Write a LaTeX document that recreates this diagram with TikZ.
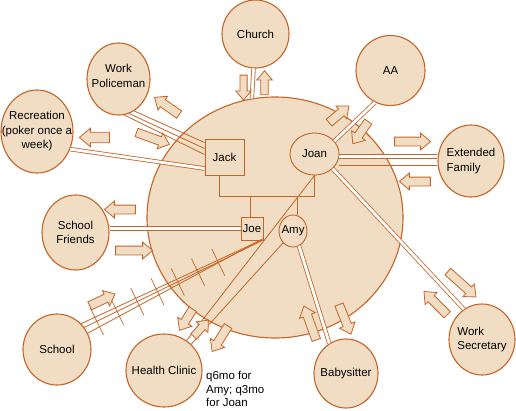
\documentclass[tikz,border=0pt]{standalone}
\usepackage{fontspec}
\setmainfont{Liberation Sans}
\usepackage{xcolor}
\usepackage{tikz}
\usetikzlibrary{shapes.geometric, shapes.arrows, calc}
\definecolor{clrLine}{RGB}{196,100,38}
\definecolor{clrFill}{RGB}{241,221,195}
\newcommand{\lblfont}{\fontsize{11.5}{14.5}\selectfont}

\begin{document}
\begin{tikzpicture}[
  x=1pt, y=-1pt,
  ring/.style={ellipse, draw=clrLine, fill=clrFill, line width=1.1pt,
               inner sep=0pt},
  tag/.style={align=center, font=\lblfont, inner sep=0pt},
  member/.style={rectangle, draw=clrLine, fill=clrFill, line width=0.9pt,
                 inner sep=0pt, font=\lblfont},
  tie/.style={draw=clrLine, line width=0.8pt},
  dbl/.style={tie, double=white, double distance=2.8pt},
  stress/.style={tie, line width=0.7pt},
  flow/.style={single arrow, draw=clrLine, fill=clrFill, line width=0.8pt,
               inner xsep=0pt, inner ysep=4pt, minimum width=0pt,
               minimum height=30pt, single arrow head extend=4pt,
               single arrow tip angle=80},
  note/.style={align=left, inner sep=0pt,
               font=\fontsize{11.5}{13.5}\selectfont}
]
\useasboundingbox (0,0) rectangle (516,410);

% household
\node[ring, minimum width=256pt, minimum height=241pt] (home) at (275,217.5) {};

% outside systems
\node[ring, minimum width=67pt, minimum height=68pt,
      label={[tag]center:Church}] (church) at (255.5,34) {};
\node[ring, minimum width=69pt, minimum height=70pt,
      label={[tag]center:AA}] (aa) at (390.5,70.5) {};
\node[ring, minimum width=63pt, minimum height=72pt,
      label={[tag, yshift=3pt]center:Work\\Policeman}] (pol) at (118.5,79) {};
\node[ring, minimum width=72pt, minimum height=83pt,
      label={[tag]center:Recreation\\(poker once a\\week)}] (rec) at (37,131.5) {};
\node[ring, minimum width=66pt, minimum height=72pt,
      label={[tag, align=left]center:Extended\\Family}] (ef) at (471,161) {};
\node[ring, minimum width=67pt, minimum height=75pt,
      label={[tag]center:School\\Friends}] (sf) at (75.5,232.5) {};
\node[ring, minimum width=68pt, minimum height=71pt,
      label={[tag]center:School}] (school) at (57,349.5) {};
\node[ring, minimum width=76pt, minimum height=73pt,
      label={[tag]center:Health Clinic}] (hc) at (164,370.5) {};
\node[ring, minimum width=64pt, minimum height=69pt,
      label={[tag]center:Babysitter}] (baby) at (346,373.5) {};
\node[ring, minimum width=66pt, minimum height=71pt,
      label={[tag, align=left]center:Work\\Secretary}] (ws) at (482,339.5) {};

% family members
\node[member, minimum width=39pt, minimum height=36pt] (jack) at (224.5,157) {Jack};
\node[ring, line width=0.9pt, minimum width=49pt, minimum height=42pt,
      label={[tag]center:Joan}] (joan) at (314.5,154) {};
\node[member, minimum width=22pt, minimum height=23pt] (joe) at (252,228.5) {Joe};
\node[ring, line width=0.9pt, minimum width=28pt, minimum height=32pt,
      label={[tag]center:Amy}] (amy) at (293,231) {};

% family lines
\coordinate (sib) at (0,196);
\draw[tie] ([xshift=-5pt]jack.south) |- (sib -| joan.south) -- (joan.south);
\draw[tie] ([xshift=-2pt]joe.north) -- ([xshift=-2pt]joe.north |- sib);
\draw[tie] (amy.75) -- (amy.75 |- sib);

% relationships
\draw[dbl] (church) -- (home.101);
\draw[tie] (pol.-81) -- ([yshift=-16pt]jack.north west);
\draw[tie] (pol.-73) -- ([yshift=-10pt]jack.north west);
\draw[tie] (pol.-64) -- ([yshift=-4pt]jack.north west);
\draw[dbl] (rec.-28) -- ([yshift=-11.5pt]jack.west);
\draw[dbl] (aa.244) -- (joan.33);
\draw[dbl] ([yshift=-2.5pt]joan.east) -- ([yshift=-2.5pt]joan.east -| ef.west);
\draw[tie] ([yshift=-11pt]joan.east) -- ([yshift=-11pt]joan.east -| ef.west);
\draw[dbl] (joan.-39) -- (ws.121);
\draw[dbl] (amy.-68) -- (baby.119);
\draw[dbl] (joe.west) -- (joe.west -| sf.east);
\draw[tie] (joan.south) -- (hc.53);
\draw[tie] (amy.-130) -- (hc.44);

% stressful tie to school
\draw[tie] (school.47) -- ([xshift=-3pt]joe.south east);
\draw[tie] (school.39) -- ([xshift=-1pt]joe.south east);
\draw[tie] (school.28) -- ([yshift=2pt]joe.south east);
\foreach \t in {0.07,0.183,0.296,0.409,0.522,0.635,0.748}
  \draw[stress] ($(school.39)!\t!(joe.south east)!15pt!90:(joe.south east)$)
             -- ($(school.39)!\t!(joe.south east)!15pt!-90:(joe.south east)$);

% flow of energy
\node[flow, rotate=-90, minimum height=25pt, inner ysep=3.2pt] (toChurch) at (243.5,85.5) {};
\node[flow, rotate=90, minimum height=24pt, inner ysep=3.4pt] (fromChurch) at (264.5,85) {};
\node[flow, rotate=145] (toPol) at (169,107.5) {};
\node[flow, rotate=-20, minimum height=35pt] (fromPol) at (150.5,137.5) {};
\node[flow, rotate=180, inner ysep=4.8pt] (toRec) at (97.5,137.5) {};
\node[flow, rotate=40, minimum height=26pt] (toAA) at (337,116) {};
\node[flow, rotate=-125, minimum height=27pt] (fromAA) at (362,130.5) {};
\node[flow, minimum height=36pt] (toEF) at (410,141.5) {};
\node[flow, rotate=180, minimum height=31pt] (fromEF) at (417.5,181.5) {};
\node[flow, rotate=180, minimum height=31pt] (toSF) at (122.5,209.5) {};
\node[flow, minimum height=37pt] (fromSF) at (131.5,250.5) {};
\node[flow, rotate=25, minimum height=28pt] (fromSchool) at (100,301) {};
\node[flow, rotate=-122, minimum height=25pt] (toHCa) at (187.5,317.5) {};
\node[flow, rotate=48, minimum height=22pt, inner ysep=3.5pt] (fromHC) at (199.5,330) {};
\node[flow, rotate=-122, minimum height=30pt] (toHCb) at (221.5,336.5) {};
\node[flow, rotate=110, minimum height=36pt] (fromBaby) at (311,325.5) {};
\node[flow, rotate=-68, minimum height=32pt] (toBaby) at (344,317) {};
\node[flow, rotate=-42, minimum height=38pt] (toWS) at (460,282.5) {};
\node[flow, rotate=135, minimum height=33pt] (fromWS) at (437.5,305) {};

\node[note, anchor=north west] (visits) at (206,371) {q6mo for\\Amy; q3mo\\for Joan};

\end{tikzpicture}
\end{document}
